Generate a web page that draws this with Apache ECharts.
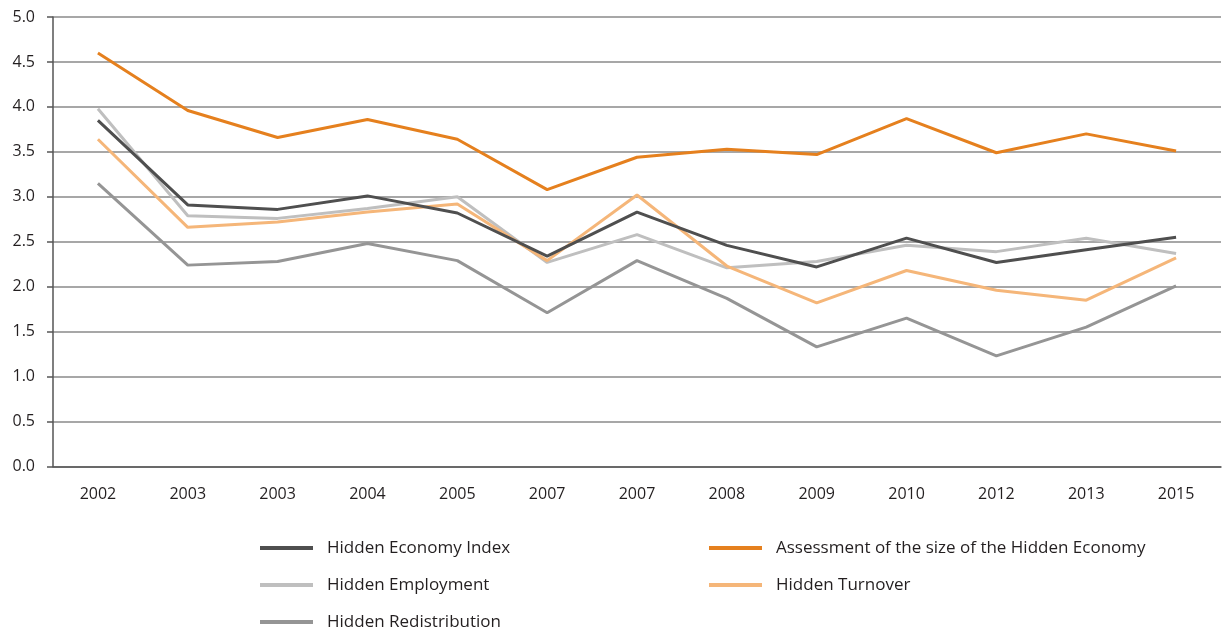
<!DOCTYPE html>
<html>
<head>
<meta charset="utf-8">
<script src="https://cdn.jsdelivr.net/npm/echarts@6/dist/echarts.min.js"></script>
<style>
  html, body { margin: 0; padding: 0; background: #fff; }
  #chart { width: 1223px; height: 631px; }
</style>
</head>
<body>
<div id="chart"></div>
<script>
// categories as printed on the axis (years repeat in the source)
const years = ['2002', '2003', '2003', '2004', '2005', '2007', '2007', '2008', '2009', '2010', '2012', '2013', '2015']
const yTicks = [0, 0.5, 1, 1.5, 2, 2.5, 3, 3.5, 4, 4.5, 5]

const economyIndex = [3.85, 2.91, 2.86, 3.01, 2.82, 2.34, 2.83, 2.46, 2.22, 2.54, 2.27, 2.41, 2.55]
const assessment = [4.60, 3.96, 3.66, 3.86, 3.64, 3.08, 3.44, 3.53, 3.47, 3.87, 3.49, 3.70, 3.51]
const employment = [3.98, 2.79, 2.76, 2.87, 3.00, 2.27, 2.58, 2.21, 2.28, 2.46, 2.39, 2.54, 2.37]
const turnover = [3.64, 2.66, 2.72, 2.83, 2.92, 2.29, 3.02, 2.23, 1.82, 2.18, 1.96, 1.85, 2.32]
const redistribution = [3.15, 2.24, 2.28, 2.48, 2.29, 1.71, 2.29, 1.87, 1.33, 1.65, 1.23, 1.55, 2.01]

const font = '"Open Sans", "DejaVu Sans", sans-serif'
const textColor = '#231f20'

const mkLine = (name, data, color) => ({
  name: name,
  type: 'line',
  data: data,
  symbol: 'none',
  lineStyle: { color: color, width: 3 },
  itemStyle: { color: color }
})

// both legend columns share this, only left + data differ
const legendBase = {
  orient: 'vertical',
  top: 539,
  height: 92,
  padding: 0,
  itemGap: 19,
  icon: 'rect',
  itemWidth: 53,
  itemHeight: 4,
  textStyle: { fontFamily: font, fontSize: 17, color: textColor, lineHeight: 18, padding: [0, 0, 0, 9] }
}

const chart = echarts.init(document.getElementById('chart'))
chart.setOption({
  animation: false,
  backgroundColor: '#fff',
  grid: { left: 53, right: 2, top: 17, bottom: 164.5 },
  legend: [
    Object.assign({}, legendBase, { left: 260, data: ['Hidden Economy Index', 'Hidden Employment', 'Hidden Redistribution'] }),
    Object.assign({}, legendBase, { left: 709, data: ['Assessment of the size of the Hidden Economy', 'Hidden Turnover'] })
  ],
  xAxis: {
    type: 'category',
    data: years,
    boundaryGap: true,
    axisLine: { lineStyle: { color: '#555', width: 1.5 } },
    axisTick: { length: 6, lineStyle: { color: '#555', width: 1.5 } },
    axisLabel: { margin: 20, fontFamily: font, fontSize: 16, color: textColor }
  },
  yAxis: {
    type: 'value',
    min: yTicks[0],
    max: yTicks[yTicks.length - 1],
    interval: 0.5,
    axisLine: { show: true, lineStyle: { color: '#555', width: 1.5 } },
    axisTick: { show: true, length: 6, lineStyle: { color: '#555', width: 1.5 } },
    axisLabel: { margin: 18, fontFamily: font, fontSize: 16, color: textColor, formatter: v => v.toFixed(1) },
    splitLine: { lineStyle: { color: '#8a8a8a', width: 1.5 } }
  },
  series: [
    mkLine('Hidden Redistribution', redistribution, '#959595'),
    mkLine('Hidden Employment', employment, '#bfbfbf'),
    mkLine('Hidden Turnover', turnover, '#f5b679'),
    mkLine('Hidden Economy Index', economyIndex, '#4f4f4f'),
    mkLine('Assessment of the size of the Hidden Economy', assessment, '#e5801e')
  ]
})
</script>
</body>
</html>
